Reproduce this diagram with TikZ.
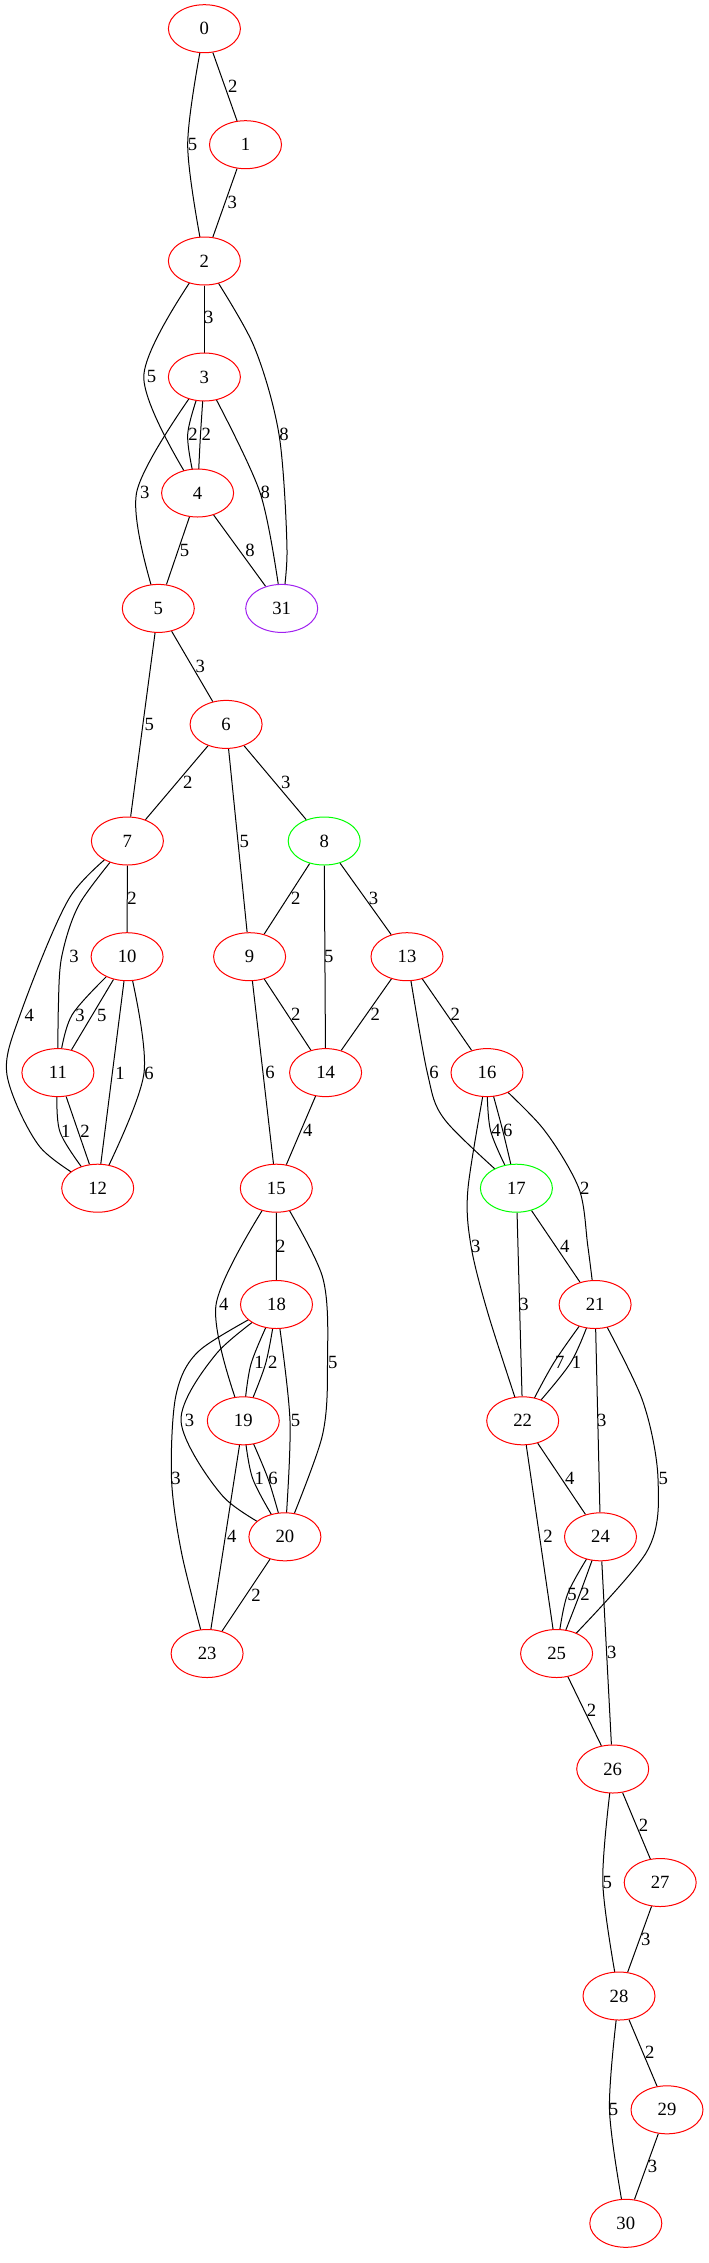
\documentclass[tikz,border=0pt]{standalone}
\usepackage{fontspec}
\setmainfont{Liberation Serif}
\usetikzlibrary{shapes.geometric,backgrounds}
\definecolor{VertRed}{rgb}{1, 0, 0}
\definecolor{VertGreen}{rgb}{0, 1, 0}
\definecolor{VertPurple}{rgb}{0.627, 0.125, 0.941}

\begin{document}
\begin{tikzpicture}[x=0.75pt, y=-0.75pt, every node/.style={font=\fontsize{14}{16}\selectfont}]

      \tikzstyle{Vert}=[ellipse, draw=VertRed, fill=white, line width=0.75pt, minimum width=54pt, minimum height=36pt, inner sep=0pt];
      \tikzstyle{Wt}=[inner sep=0pt];
      \tikzstyle{Ed}=[draw=black, line width=0.75pt];

      \useasboundingbox (0,0) rectangle (709,2263);

        % vertices
        \node[Vert](V0) at (204.4, 28.7) {0};
        \node[Vert](V1) at (245.5, 144.7) {1};
        \node[Vert](V2) at (204.4, 261) {2};
        \node[Vert](V3) at (204.4, 377) {3};
        \node[Vert](V4) at (197.6, 493) {4};
        \node[Vert](V5) at (158.3, 608.4) {5};
        \node[Vert, draw=VertPurple](V31) at (281.7, 608.4) {31};
        \node[Vert](V6) at (226.1, 724.4) {6};
        \node[Vert](V7) at (127.4, 841) {7};
        \node[Vert, draw=VertGreen](V8) at (324.2, 841) {8};
        \node[Vert](V10) at (127.1, 956.7) {10};
        \node[Vert](V9) at (249.6, 956.7) {9};
        \node[Vert](V13) at (407, 956.7) {13};
        \node[Vert](V11) at (57.9, 1072.6) {11};
        \node[Vert](V14) at (325.6, 1072.6) {14};
        \node[Vert](V16) at (487, 1072.6) {16};
        \node[Vert](V12) at (97.7, 1188.2) {12};
        \node[Vert](V15) at (276.3, 1188.2) {15};
        \node[Vert, draw=VertGreen](V17) at (516.4, 1188.2) {17};
        \node[Vert](V18) at (276.5, 1304.5) {18};
        \node[Vert](V21) at (595.1, 1304.5) {21};
        \node[Vert](V19) at (243.3, 1420.8) {19};
        \node[Vert](V22) at (522.7, 1420.8) {22};
        \node[Vert](V20) at (284.9, 1536.8) {20};
        \node[Vert](V24) at (600.5, 1536.8) {24};
        \node[Vert](V23) at (207.1, 1653.5) {23};
        \node[Vert](V25) at (556.6, 1653.5) {25};
        \node[Vert](V26) at (612.7, 1769) {26};
        \node[Vert](V27) at (660.2, 1882.5) {27};
        \node[Vert](V28) at (619, 1996) {28};
        \node[Vert](V29) at (667, 2109.8) {29};
        \node[Vert](V30) at (625.8, 2223.3) {30};

      \begin{pgfonlayer}{background}
        % straight edges
        \draw[Ed] (V0) -- (V1) node[Wt](w0t1) at (232.9, 86.1) {2};
        \draw[Ed] (V1) -- (V2) node[Wt](w1t2) at (232.4, 202) {3};
        \draw[Ed] (V2) -- (V3) node[Wt](w2t3) at (208.9, 317.6) {3};
        \draw[Ed] (V4) -- (V5) node[Wt](w4t5) at (184.5, 550.3) {5};
        \draw[Ed] (V4) -- (V31) node[Wt](w4t31) at (250, 550.3) {8};
        \draw[Ed] (V5) -- (V6) node[Wt](w5t6) at (200.3, 666.2) {3};
        \draw[Ed] (V5) -- (V7) node[Wt](w5t7) at (149.2, 724.4) {5};
        \draw[Ed] (V6) -- (V7) node[Wt](w6t7) at (187.7, 782.2) {2};
        \draw[Ed] (V6) -- (V8) node[Wt](w6t8) at (285.8, 782.2) {3};
        \draw[Ed] (V6) -- (V9) node[Wt](w6t9) at (244.2, 841.1) {5};
        \draw[Ed] (V7) -- (V10) node[Wt](w7t10) at (132, 898.5) {2};
        \draw[Ed] (V8) -- (V9) node[Wt](w8t9) at (295.7, 898.5) {2};
        \draw[Ed] (V8) -- (V14) node[Wt](w8t14) at (328.7, 956.7) {5};
        \draw[Ed] (V8) -- (V13) node[Wt](w8t13) at (373.5, 898.5) {3};
        \draw[Ed] (V10) -- (V11) node[Wt](w10t11b) at (101.7, 1015) {5};
        \draw[Ed] (V10) -- (V12) node[Wt](w10t12a) at (120, 1073) {1};
        \draw[Ed] (V11) -- (V12) node[Wt](w11t12b) at (85, 1131.7) {2};
        \draw[Ed] (V9) -- (V14) node[Wt](w9t14) at (295.7, 1014.5) {2};
        \draw[Ed] (V9) -- (V15) node[Wt](w9t15) at (270, 1072.6) {6};
        \draw[Ed] (V13) -- (V14) node[Wt](w13t14) at (375.3, 1014.5) {2};
        \draw[Ed] (V13) -- (V16) node[Wt](w13t16) at (455.4, 1014.5) {2};
        \draw[Ed] (V14) -- (V15) node[Wt](w14t15) at (307.9, 1130.8) {4};
        \draw[Ed] (V15) -- (V18) node[Wt](w15t18) at (280.8, 1245.9) {2};
        \draw[Ed] (V17) -- (V21) node[Wt](w17t21) at (564.8, 1245.9) {4};
        \draw[Ed] (V17) -- (V22) node[Wt](w17t22) at (524.1, 1304.5) {3};
        \draw[Ed] (V19) -- (V23) node[Wt](w19t23) at (231.7, 1536.7) {4};
        \draw[Ed] (V20) -- (V23) node[Wt](w20t23) at (256, 1595) {2};
        \draw[Ed] (V21) -- (V24) node[Wt](w21t24) at (601.9, 1420.8) {3};
        \draw[Ed] (V22) -- (V24) node[Wt](w22t24) at (569.7, 1478.6) {4};
        \draw[Ed] (V22) -- (V25) node[Wt](w22t25) at (548, 1536.8) {2};
        \draw[Ed] (V24) -- (V26) node[Wt](w24t26) at (611.8, 1652.7) {3};
        \draw[Ed] (V25) -- (V26) node[Wt](w25t26) at (591.5, 1710.1) {2};
        \draw[Ed] (V26) -- (V27) node[Wt](w26t27) at (643.5, 1825.2) {2};
        \draw[Ed] (V27) -- (V28) node[Wt](w27t28) at (645.7, 1939.1) {3};
        \draw[Ed] (V28) -- (V29) node[Wt](w28t29) at (649.8, 2052.6) {2};
        \draw[Ed] (V29) -- (V30) node[Wt](w29t30) at (652.5, 2166.4) {3};

        % bent edges
        \draw[Ed] plot[smooth] coordinates {(V0.center) (187.7, 144.7) (V2.center)} node[Wt](w0t2) at (192.6, 144.7) {5};
        \draw[Ed] plot[smooth] coordinates {(V2.center) (143.8, 376.2) (V4.center)} node[Wt](w2t4) at (151.5, 376.2) {5};
        \draw[Ed] plot[smooth] coordinates {(V2.center) (253, 344) (279, 434.4) (287, 550) (V31.center)} node[Wt](w2t31) at (284, 434.4) {8};
        \draw[Ed] plot[smooth] coordinates {(V3.center) (187.7, 434.4) (V4.center)} node[Wt](w3t4a) at (193.1, 434.4) {2};
        \draw[Ed] plot[smooth] coordinates {(V3.center) (200.5, 434.4) (V4.center)} node[Wt](w3t4b) at (206.2, 434.4) {2};
        \draw[Ed] plot[smooth] coordinates {(V3.center) (136.6, 492.5) (V5.center)} node[Wt](w3t5) at (144.7, 492.5) {3};
        \draw[Ed] plot[smooth] coordinates {(V3.center) (260, 492.5) (V31.center)} node[Wt](w3t31) at (265.4, 492.5) {8};
        \draw[Ed] plot[smooth] coordinates {(V7.center) (80, 903) (61.7, 956.7) (58.3, 1010) (V11.center)} node[Wt](w7t11) at (74, 956.7) {3};
        \draw[Ed] plot[smooth] coordinates {(V7.center) (70, 897) (20, 1015) (7, 1075) (40, 1147) (V12.center)} node[Wt](w7t12) at (29.3, 1015) {4};
        \draw[Ed] plot[smooth] coordinates {(V10.center) (72, 1015) (V11.center)} node[Wt](w10t11a) at (80, 1015) {3};
        \draw[Ed] plot[smooth] coordinates {(V10.center) (144, 1073) (V12.center)} node[Wt](w10t12b) at (149, 1073) {6};
        \draw[Ed] plot[smooth] coordinates {(V11.center) (60, 1132) (V12.center)} node[Wt](w11t12a) at (65.7, 1131.7) {1};
        \draw[Ed] plot[smooth] coordinates {(V13.center) (427.3, 1072.6) (445.4, 1120.5) (V17.center)} node[Wt](w13t17) at (434.1, 1072.6) {6};
        \draw[Ed] plot[smooth] coordinates {(V16.center) (490.6, 1130.8) (V17.center)} node[Wt](w16t17a) at (496, 1130.8) {4};
        \draw[Ed] plot[smooth] coordinates {(V16.center) (502.8, 1130.8) (V17.center)} node[Wt](w16t17b) at (507.8, 1130.8) {6};
        \draw[Ed] plot[smooth] coordinates {(V16.center) (468, 1188.2) (471, 1245.9) (488.4, 1314.8) (V22.center)} node[Wt](w16t22) at (475.7, 1245.9) {3};
        \draw[Ed] plot[smooth] coordinates {(V16.center) (542.6, 1128) (578.8, 1188.2) (587.8, 1245.9) (V21.center)} node[Wt](w16t21) at (584.7, 1188.2) {2};
        \draw[Ed] plot[smooth] coordinates {(V15.center) (216, 1305) (V19.center)} node[Wt](w15t19) at (223.8, 1304.5) {4};
        \draw[Ed] plot[smooth] coordinates {(V15.center) (322.4, 1276.5) (327.5, 1362.6) (322, 1437) (V20.center)} node[Wt](w15t20) at (332.8, 1362.6) {5};
        \draw[Ed] plot[smooth] coordinates {(V18.center) (251, 1364) (V19.center)} node[Wt](w18t19a) at (259.1, 1362.6) {1};
        \draw[Ed] plot[smooth] coordinates {(V18.center) (265.5, 1364) (V19.center)} node[Wt](w18t19b) at (272.7, 1362.6) {2};
        \draw[Ed] plot[smooth] coordinates {(V18.center) (216.7, 1353.3) (181, 1420.8) (223.3, 1496.7) (V20.center)} node[Wt](w18t20a) at (189.6, 1420.8) {3};
        \draw[Ed] plot[smooth] coordinates {(V18.center) (290, 1420.8) (V20.center)} node[Wt](w18t20b) at (295.5, 1420.8) {5};
        \draw[Ed] plot[smooth] coordinates {(V18.center) (200, 1350) (176, 1395) (171.5, 1478.6) (182, 1555) (V23.center)} node[Wt](w18t23) at (176, 1478.6) {3};
        \draw[Ed] plot[smooth] coordinates {(V19.center) (252.7, 1478.6) (V20.center)} node[Wt](w19t20a) at (259.2, 1478.6) {1};
        \draw[Ed] plot[smooth] coordinates {(V19.center) (268, 1478.6) (V20.center)} node[Wt](w19t20b) at (273, 1478.6) {6};
        \draw[Ed] plot[smooth] coordinates {(V21.center) (553.9, 1362.6) (V22.center)} node[Wt](w21t22a) at (559.8, 1362.6) {7};
        \draw[Ed] plot[smooth] coordinates {(V21.center) (570.7, 1362.6) (V22.center)} node[Wt](w21t22b) at (576.5, 1362.6) {1};
        \draw[Ed] plot[smooth] coordinates {(V21.center) (642, 1399) (658, 1478.6) (646.6, 1552) (V25.center)} node[Wt](w21t25) at (663.3, 1478.6) {5};
        \draw[Ed] plot[smooth] coordinates {(V24.center) (567.5, 1594.2) (V25.center)} node[Wt](w24t25a) at (572, 1594.2) {5};
        \draw[Ed] plot[smooth] coordinates {(V24.center) (579.7, 1594.2) (V25.center)} node[Wt](w24t25b) at (585.1, 1594.2) {2};
        \draw[Ed] plot[smooth] coordinates {(V26.center) (602.8, 1882.5) (V28.center)} node[Wt](w26t28) at (607.3, 1882.5) {5};
        \draw[Ed] plot[smooth] coordinates {(V28.center) (609.5, 2109.8) (V30.center)} node[Wt](w28t30) at (613.6, 2109.8) {5};
      \end{pgfonlayer}

    \end{tikzpicture}
\end{document}
